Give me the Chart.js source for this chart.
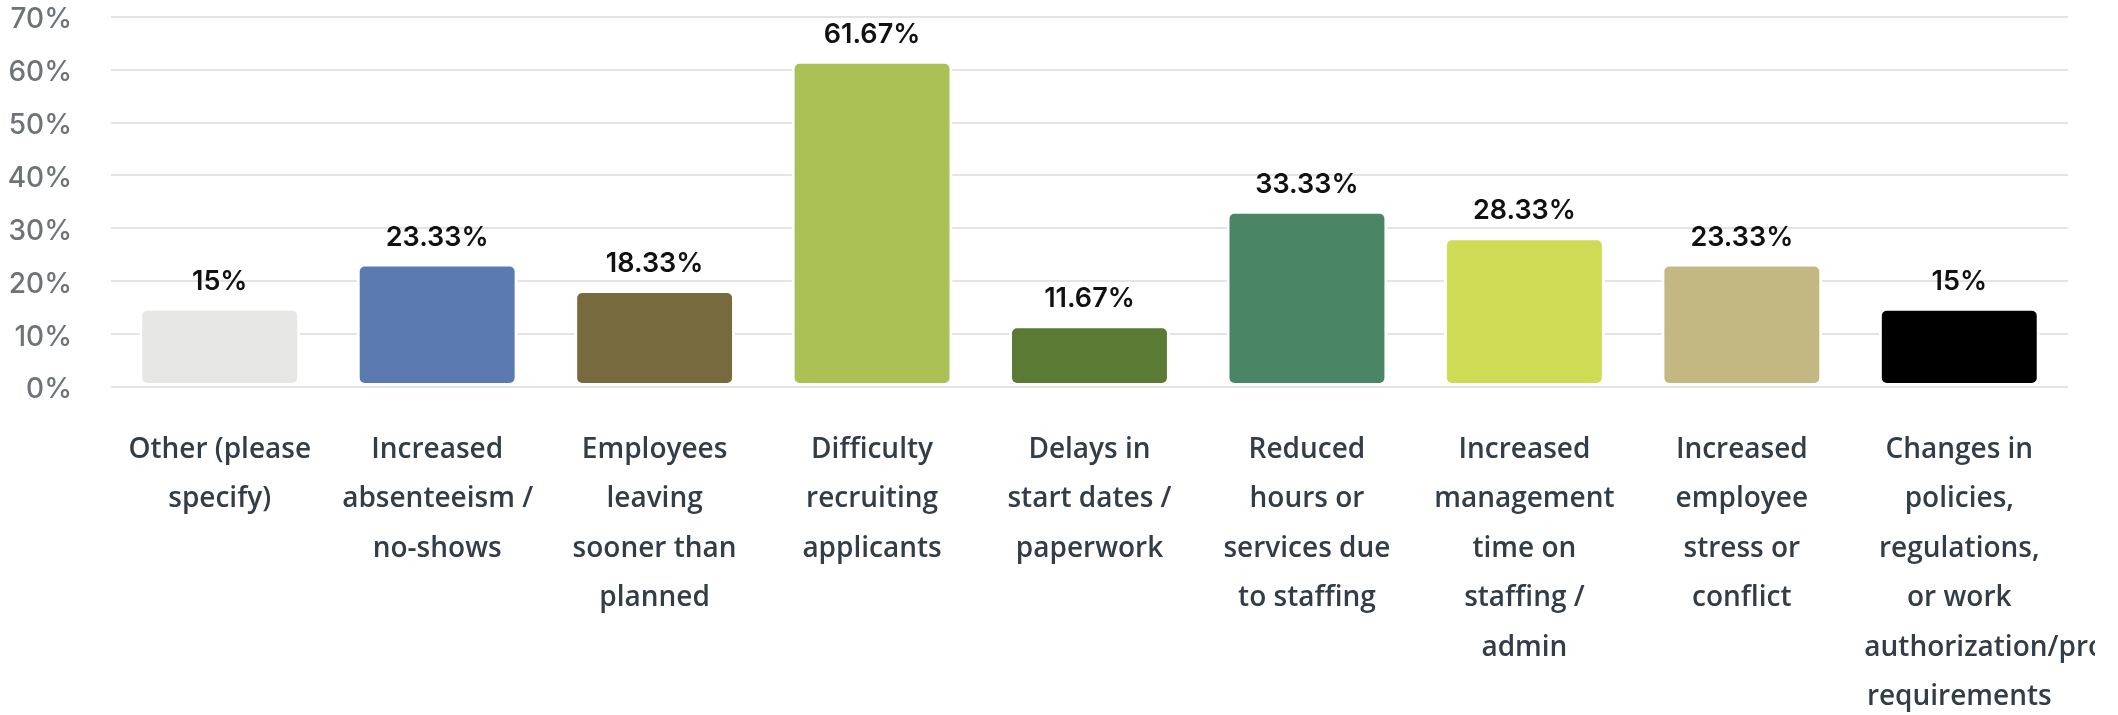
<!DOCTYPE html>
<html lang="en">
  <head>
    <meta charset="UTF-8" />
    <title>Staffing impact</title>
    <script src="https://cdn.jsdelivr.net/npm/chart.js@4.4.1/dist/chart.umd.min.js"></script>
    <style>
      body { margin: 0; background: #fff; }
      #wrap { width: 2095px; height: 715px; position: relative; overflow: hidden; }
    </style>
  </head>
  <body>
    <div id="wrap"><canvas id="myChart"></canvas></div>

    <script>
      // answer options, already broken into lines the way they wrap under each bar
      const labels = [
        ['Other (please', 'specify)'],
        ['Increased', 'absenteeism /', 'no-shows'],
        ['Employees', 'leaving', 'sooner than', 'planned'],
        ['Difficulty', 'recruiting', 'applicants'],
        ['Delays in', 'start dates /', 'paperwork'],
        ['Reduced', 'hours or', 'services due', 'to staffing'],
        ['Increased', 'management', 'time on', 'staffing /', 'admin'],
        ['Increased', 'employee', 'stress or', 'conflict'],
        ['Changes in', 'policies,', 'regulations,', 'or work', 'authorization/process', 'requirements']
      ]
      const percents = [15, 23.33, 18.33, 61.67, 11.67, 33.33, 28.33, 23.33, 15]
      const colors = ['#e6e6e4', '#5a7ab0', '#776a3e', '#abc156', '#5b7a34', '#4a8566', '#cfdb55', '#c4b882', '#000000']
      const yTicks = [0, 10, 20, 30, 40, 50, 60, 70]

      // value above each bar
      const valueLabels = {
        id: 'valueLabels',
        afterDatasetsDraw(chart) {
          const ctx = chart.ctx
          const meta = chart.getDatasetMeta(0)
          ctx.save()
          ctx.font = '600 27px Inter'
          ctx.fillStyle = '#111'
          ctx.textAlign = 'center'
          ctx.textBaseline = 'alphabetic'
          meta.data.forEach((bar, i) => {
            ctx.fillText(percents[i] + '%', bar.x, bar.y - 18)
          })
          ctx.restore()
        }
      }

      // category text: centred in a fixed box, long words overflow to the right
      const categoryText = {
        id: 'categoryText',
        afterDraw(chart) {
          const ctx = chart.ctx
          const x = chart.scales.x
          const top = chart.chartArea.bottom + 63
          const boxW = 190
          ctx.save()
          ctx.font = '600 28px "Open Sans"'
          ctx.fillStyle = '#333d47'
          ctx.textBaseline = 'middle'
          labels.forEach((lines, i) => {
            const cx = x.getPixelForValue(i)
            lines.forEach((line, j) => {
              const w = ctx.measureText(line).width
              const y = top + j * 49.5
              if (w > boxW) {
                ctx.textAlign = 'left'
                ctx.fillText(line, cx - boxW / 2, y)
              } else {
                ctx.textAlign = 'center'
                ctx.fillText(line, cx, y)
              }
            })
          })
          ctx.restore()
        }
      }

      const ctx = document.getElementById('myChart').getContext('2d')
      const myChart = new Chart(ctx, {
        type: 'bar',
        data: {
          labels: labels.map(l => l.join(' ')),
          datasets: [{
            data: percents,
            backgroundColor: colors,
            borderColor: '#fff',
            borderWidth: 3,
            borderSkipped: false,
            borderRadius: 8,
            barPercentage: 0.74,
            categoryPercentage: 1
          }]
        },
        options: {
          responsive: true,
          maintainAspectRatio: false,
          animation: false,
          layout: { padding: { top: 16, right: 27, bottom: 328, left: 0 } },
          plugins: {
            legend: { display: false },
            tooltip: { enabled: false }
          },
          scales: {
            x: { display: false },
            y: {
              min: 0,
              max: 70,
              afterBuildTicks: axis => { axis.ticks = yTicks.map(v => ({ value: v })) },
              afterFit: axis => { axis.width = 111 },
              border: { display: false },
              // invisible tick marks push the labels left without adding top padding
              grid: { color: '#e4e4e4', lineWidth: 2, drawTicks: true, tickLength: 39, tickColor: 'transparent' },
              ticks: {
                padding: 0,
                labelOffset: 3,
                color: '#6e7378',
                font: { family: 'Inter', size: 28, weight: '500' },
                callback: v => v + '%'
              }
            }
          }
        },
        plugins: [valueLabels, categoryText]
      })
    </script>
  </body>
</html>
